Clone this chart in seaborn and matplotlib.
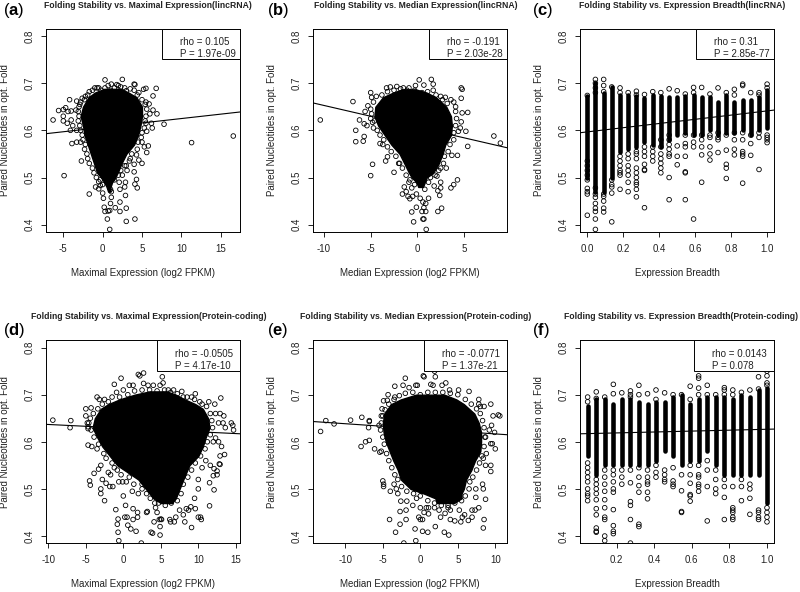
import matplotlib
matplotlib.use("Agg")
import matplotlib.pyplot as plt
from matplotlib.patches import Rectangle
import seaborn as sns

sns.set_theme(style="white")
plt.rcParams['font.family'] = ['Liberation Sans', 'DejaVu Sans']
plt.rcParams['mathtext.fontset'] = 'custom'
plt.rcParams['mathtext.bf'] = 'Liberation Sans:bold'
plt.rcParams['mathtext.rm'] = 'Liberation Sans'

W, H = 800, 592
TEXT = "#222222"

# ---------- panel (a) ----------
a_core_y =   [.47, .48, .49, .50, .51, .53, .55, .57, .59, .61, .63, .65, .67, .68, .688]
a_core_lo =  [.7, .5, .2, -.2, -.7, -1.1, -1.5, -1.9, -2.3, -2.5, -2.8, -2.5, -1.8, -1.0, .2]
a_core_hi =  [1.0, 1.0, 1.2, 1.6, 1.9, 2.4, 3.0, 4.0, 4.5, 4.8, 5.0, 5.0, 4.3, 3.3, 2.3]
a_points = [(-6.3,.622),(-5.6,.642),(-5,.644),(-4.7,.648),(-4.4,.64),(-4.2,.665),(-4,.641),(-5,.63),(-5,.62),(-4.5,.615),
 (-4,.622),(-3.8,.61),(-4.1,.6),(-3.9,.572),(-4.9,.504),(-3.3,.575),(-2.8,.575),(-2.7,.535),(-3.3,.6),(-3.4,.643),
 (-3.3,.662),(-2.9,.655),(-2.6,.668),(-2.2,.672),(-1.7,.682),(-1,.69),(-.7,.69),(.3,.707),(.3,.69),(1.1,.698),
 (1.8,.697),(2.5,.708),(2.3,.692),(3,.684),(4,.698),(4.1,.697),(4.4,.675),(5.2,.687),(5.5,.689),(6.8,.689),
 (6.4,.673),(5.5,.66),(5.9,.656),(6.4,.643),(6.9,.635),(6,.635),(6.2,.615),(6.3,.605),(7.8,.613),(5.5,.615),
 (5.6,.598),(5,.575),(5.3,.565),(5.8,.567),(5.6,.553),(5,.53),(4.6,.537),(4.3,.548),(4,.528),(4,.512),
 (3.5,.54),(3,.525),(3.1,.515),(11.3,.574),(16.6,.588),(-1.7,.465),(-.9,.48),(-.5,.476),(-.5,.491),(-.3,.483),
 (0,.467),(.1,.456),(.2,.437),(.3,.428),(.6,.412),(.7,.429),(.9,.43),(1,.445),(1.1,.458),(1.1,.47),
 (1,.475),(1.6,.436),(2.2,.428),(2.2,.448),(3,.407),(3,.435),(2.9,.462),(4.1,.412),(4.1,.486),(4.3,.496),
 (4.4,.478),(2.8,.48),(2.9,.49),(2.1,.49),(2.2,.475),(.9,.39),(1.3,.497),(.8,.487),(2.5,.505),
 (-3.1,.64),(-3,.63),(-3.1,.62),(-2.9,.61),(-2.8,.60),(-2.6,.59),(-2.5,.58),(-2.2,.57),(-2.3,.56),(-2,.55),
 (-1.9,.54),(-1.7,.53),(-1.3,.52),(-1.1,.51),(-.8,.50),(-3,.65),(-2.8,.66),(-2.3,.665),(-1.9,.675),(-1.3,.685),
 (4,.685),(4.6,.68),(5,.665),(5.4,.655),(5.6,.645),(5.5,.63),(5.4,.62),(5.3,.605),(5,.595),(4.9,.585),
 (4.5,.575),(4.4,.56),(3.7,.55),(3.4,.535),(2.8,.525),(2.3,.515),(2,.505),(1.5,.495),(0,.485),(-.3,.495),
 (-.5,.69),(.7,.695),(1.5,.69),(2,.695),(2.8,.69),(3.5,.688),(-.2,.685),(1,.685),(2.2,.683)]

# ---------- panel (b) ----------
b_core_y =  [.48, .49, .50, .51, .53, .55, .57, .59, .61, .63, .65, .67, .68, .687]
b_core_lo = [.1, -.1, -.6, -.9, -1.4, -1.9, -2.8, -3.5, -4.2, -4.6, -4.5, -3.7, -2.6, -1.6]
b_core_hi = [.6, .8, 1.0, 1.7, 2.3, 2.7, 3.0, 3.6, 3.7, 3.6, 3.1, 2.0, 1.0, -.2]
b_points = [(-10.4,.622),(-6.9,.661),(-6.6,.6),(-6.6,.576),(-6.2,.622),(-5.7,.614),(-5.7,.587),(-5.8,.577),(-5.4,.61),(-5.6,.64),
 (-5.3,.652),(-5,.68),(-4.9,.67),(-5,.625),(-4.8,.617),(-4.7,.605),(-4.8,.528),(-5,.504),(-4,.572),(-3.7,.57),
 (-3.4,.535),(-3.2,.544),(-2.5,.511),(-2,.53),(-3.3,.69),(-2.9,.692),(-2.2,.693),(-1.5,.69),(-.9,.69),(-.2,.695),
 (.2,.707),(.7,.696),(1.5,.708),(1.7,.698),(1.7,.685),(2.5,.672),(3,.67),(3.6,.665),(4.1,.65),(4.7,.69),
 (4.8,.687),(4.7,.668),(4.8,.637),(5.4,.638),(4.7,.618),(4.6,.605),(5.2,.598),(4.4,.598),(5.4,.566),(4.3,.547),
 (3.7,.547),(3.1,.52),(8.2,.588),(8.9,.573),(-1.6,.465),(-1.4,.48),(-1.2,.47),(-1,.46),(-.8,.455),(-.5,.46),
 (-.6,.478),(-.9,.49),(-.1,.465),(.3,.456),(.6,.448),(.9,.445),(1.2,.456),(.7,.436),(.9,.428),(.7,.412),
 (.6,.412),(-.1,.437),(-.6,.427),(-.4,.406),(.5,.428),(.95,.39),(2.2,.428),(2.6,.435),(2.4,.462),(2.5,.478),
 (2.5,.49),(1.8,.482),(2.2,.472),(3.6,.478),(3.9,.485),(4.3,.495),(2.1,.503),(2.3,.515),(.8,.475),(1.2,.49),
 (-4.7,.66),(-4.4,.672),(-3.8,.675),(-3.2,.682),(-2.5,.685),(-1.8,.688),(-1.1,.685),(-.3,.685),(.5,.68),(1.1,.682),
 (2,.675),(2.7,.665),(3.2,.657),(3.9,.66),(4.1,.64),(4.2,.625),(4.1,.61),(3.9,.595),(3.9,.58),(3.5,.57),
 (3.3,.555),(2.9,.545),(2.8,.53),(2.5,.52),(1.9,.505),(1.4,.50),(-5,.645),(-4.9,.635),(-4.6,.62),(-4.3,.6),
 (-4,.59),(-3.6,.58),(-3.2,.565),(-2.8,.555),(-2.3,.545),(-1.9,.53),(-1.6,.52),(-1.2,.505),(-.8,.495),(-.3,.485)]

# ---------- panel (c) ----------
c_breadth = [0, .045, .091, .136, .182, .227, .273, .318, .364, .409, .455, .5,
             .545, .591, .636, .682, .727, .773, .818, .864, .909, .955, 1.0]
c_dense_lo = [.50, .47, .47, .50, .555, .56, .565, .575, .57, .565, .58, .59,
              .595, .59, .59, .60, .59, .595, .595, .60, .59, .60, .605]
c_dense_hi = [.672, .70, .68, .692, .675, .675, .672, .668, .675, .672, .67, .67,
              .672, .675, .67, .67, .66, .675, .66, .665, .665, .67, .685]
c_extra = [[.42,.465,.47,.477,.495,.505,.515,.525,.535,.674],
 [.39,.412,.428,.435,.445,.458,.465,.478,.69,.70,.708,.68],
 [.427,.435,.45,.46,.465,.708,.695,.682],
 [.406,.467,.48,.485,.495,.692],
 [.475,.505,.51,.515,.525,.535,.545,.69,.68],
 [.47,.49,.505,.515,.525,.54,.55,.68],
 [.459,.475,.485,.49,.50,.51,.52,.54,.55,.555,.683,.675],
 [.436,.515,.517,.528,.545,.555,.565,.676],
 [.535,.545,.555,.565,.682],
 [.51,.52,.53,.54,.55,.565,.58,.68],
 [.453,.5,.545,.55,.56,.57,.58,.59,.688],
 [.527,.545,.567,.684],
 [.453,.51,.512,.545,.565,.572,.59,.677],
 [.412,.565,.575,.59,.691,.68],
 [.49,.548,.565,.58,.59,.691],
 [.537,.55,.565,.585,.59,.677],
 [.553,.58,.585,.595,.69],
 [.498,.52,.528,.558,.59,.68],
 [.548,.56,.58,.595,.687,.675],
 [.488,.545,.55,.555,.58,.595,.698,.695],
 [.547,.572,.59,.68],
 [.517,.585,.595,.68,.675],
 [.574,.58,.585,.59,.698,.69]]

# ---------- panel (d) ----------
d_core_y =  [.47, .48, .50, .52, .55, .57, .59, .61, .63, .65, .67, .68, .69, .70, .707]
d_core_lo = [5.0, 4.0, 3.0, 2.0, -.8, -1.8, -2.8, -3.5, -4.1, -3.8, -3.0, -2.0, -.5, 1.5, 3.5]
d_core_hi = [6.5, 7.0, 7.5, 8.0, 8.8, 10.0, 10.6, 11.0, 11.5, 11.3, 10.6, 9.6, 8.2, 7.0, 5.8]
d_points = [(-9.4,.646),(-7,.645),(-7.1,.63),(-5,.67),(-5,.655),(-4.8,.64),(-4.3,.672),(-4,.66),(-4.7,.628),(-4.7,.632),
 (-4.7,.593),(-4.2,.59),(-3.5,.695),(-3.2,.69),(-2.5,.69),(-1.2,.722),(-.9,.705),(-.3,.735),(0,.71),(.8,.72),
 (1.3,.72),(2,.743),(2.2,.74),(2.7,.746),(2.7,.724),(3.3,.72),(4,.72),(5.2,.738),(5.3,.725),(4.9,.72),
 (6,.71),(6.7,.71),(7.8,.707),(8.5,.695),(9.6,.702),(9.5,.69),(11.4,.685),(10.5,.68),(12.2,.68),(13,.693),
 (12.3,.66),(12.9,.66),(13.4,.655),(12.7,.64),(13.3,.64),(13.6,.63),(14.4,.64),(14.6,.635),(14.7,.625),(12.3,.608),
 (12.7,.6),(13.1,.59),(12,.6),(12.9,.57),(13.5,.573),(12.8,.553),(12.9,.552),(12.1,.543),(12.5,.538),(11.6,.55),
 (12,.528),(12.5,.53),(11,.56),(11.5,.513),(12.1,.498),(11.5,.464),(10.5,.545),(10,.52),(10,.5),(9.5,.48),
 (10,.44),(10.3,.44),(10.4,.435),(9.1,.418),(9.6,.458),(9,.462),(8.7,.455),(8.4,.458),(8,.445),(8.2,.43),
 (7.5,.455),(7,.44),(6.8,.43),(6.3,.43),(6.2,.435),(5,.436),(4.9,.42),(4.9,.402),(4.8,.435),(5.1,.435),
 (3.7,.408),(3.9,.406),(4.1,.43),(4.5,.45),(4.3,.46),(3.2,.452),(3.1,.45),(2.4,.385),(1.7,.41),(1,.415),
 (.6,.423),(1.3,.435),(.5,.44),(.2,.44),(-.6,.39),(-.7,.408),(-.8,.425),(-.7,.436),(-1,.456),(.3,.465),
 (0,.485),(1.3,.458),(1.9,.45),(1.9,.44),(-2.5,.475),(-3,.49),(-3,.5),(-4.5,.517),(-4.4,.508),(-2.8,.52),
 (-2.3,.512),(-1.8,.505),(-1.4,.505),(-3.9,.533),(-3.3,.542),(-3,.55),(-2,.535),(-1.7,.53),(-.8,.54),(-.6,.515),
 (-.1,.515),(.4,.515),(1.2,.495),(2,.49),(2.5,.5),
 (-4.4,.65),(-4.6,.64),(-4.3,.625),(-3.9,.61),(-3.3,.595),(-3.5,.585),(-2.6,.575),(-2.3,.565),(-1.5,.555),(-1.2,.545),
 (-.3,.53),(.8,.525),(1.4,.51),(2.5,.51),(3.1,.49),(3.6,.48),(4.2,.47),(4.7,.47),(5.6,.465),(6.4,.47),
 (7.2,.475),(7.7,.49),(8,.51),(8.6,.525),(9.1,.54),(9.6,.555),(10.3,.57),(10.9,.585),(11.2,.6),(11.6,.615),
 (11.9,.63),(11.8,.645),(11.6,.66),(11.1,.675),(10.2,.685),(9.1,.695),(8,.695),(7.2,.702),(6.3,.705),(5.5,.71),
 (4.5,.708),(3.5,.71),(2.5,.71),(1.5,.708),(.6,.7),(-.5,.695),(-1.5,.695),(-2,.685),(-2.8,.68),(-3.4,.67)]

# ---------- panel (e) ----------
e_core_y =  [.47, .48, .49, .50, .52, .54, .56, .58, .60, .62, .64, .66, .68, .69, .70]
e_core_lo = [2.2, 2.0, .5, -1.3, -2.6, -3.0, -3.6, -4.1, -4.6, -4.9, -5.0, -4.8, -3.9, -2.6, -.6]
e_core_hi = [4.5, 5.5, 5.5, 5.8, 6.1, 6.8, 7.3, 8.0, 8.1, 8.1, 7.8, 7.2, 5.8, 4.8, 3.2]
e_points = [(-13.3,.622),(-12.6,.645),(-11.5,.638),(-9.3,.646),(-7.8,.652),(-6.9,.63),(-6.8,.645),(-6.8,.643),(-7.9,.59),(-7.3,.6),
 (-6.8,.603),(-6.1,.585),(-5.5,.635),(-5.4,.578),(-5.2,.58),(-5.1,.67),(-5.2,.655),(-4.9,.687),(-4.3,.7),(-4.4,.688),
 (-3.4,.695),(-3.4,.718),(-2.3,.72),(-2,.735),(-1.5,.715),(-.6,.72),(-.4,.72),(.4,.74),(.5,.738),(1.4,.722),
 (1.7,.72),(2,.738),(1.9,.75),(2.9,.72),(3.4,.725),(3.9,.71),(5.1,.71),(6.5,.707),(7.8,.69),(7.8,.68),
 (8,.675),(8.5,.675),(9.4,.68),(9.7,.655),(10.4,.657),(10.6,.655),(9.5,.635),(9.2,.625),(9.9,.62),(8.7,.61),
 (9.4,.596),(9.6,.596),(10,.585),(8.8,.575),(8.4,.565),(8.7,.55),(9.4,.55),(9.4,.537),(8.3,.51),(8.4,.5),
 (7.4,.5),(8.7,.478),(7.4,.482),(7.8,.46),(7.3,.455),(6.9,.455),(6.9,.44),(8.5,.435),(8.4,.417),(6.4,.433),
 (5.9,.445),(5.6,.44),(5.4,.43),(5.2,.455),(4.6,.432),(4,.435),(4,.455),(3.7,.46),(3.3,.448),(2.7,.44),
 (2.5,.455),(1.9,.46),(1.1,.447),(1.1,.46),(.8,.46),(0,.46),(.5,.45),(-.2,.44),(0,.435),(.3,.435),
 (-.7,.415),(-.6,.39),(.3,.41),(-1.9,.435),(-2.7,.425),(-3.3,.408),(-4.1,.435),(-2.7,.452),(-1.9,.455),(-2.6,.474),
 (-1.8,.474),(-1,.465),(-.5,.48),(-4,.495),(-3,.49),(-3.2,.5),(-3.5,.51),(-5,.517),(-4.9,.51),(-4.9,.505),
 (-.7,.5),(.1,.495),(3.2,.408),(3.8,.402),(2,.42),(1,.408),(-2.2,.385),
 (-5.2,.64),(-5.3,.625),(-5,.61),(-4.8,.595),(-4.5,.575),(-4.2,.56),(-3.8,.545),(-3.4,.53),(-3,.52),(-2.5,.505),
 (-1.8,.495),(-.9,.49),(0,.485),(1,.475),(1.9,.47),(2.8,.465),(3.7,.465),(4.6,.47),(5.5,.475),(6,.485),
 (6.5,.50),(6.6,.515),(7,.525),(7.5,.54),(7.9,.555),(8.2,.57),(8.5,.59),(8.6,.61),(8.5,.63),(8.3,.645),
 (8,.66),(7.5,.67),(6.8,.68),(6,.69),(5,.70),(4,.703),(3,.705),(2,.705),(1,.705),(0,.70),
 (-1,.705),(-2,.703),(-2.8,.698),(-3.5,.69),(-4.2,.68),(-4.7,.668),(-5,.655)]

# ---------- panel (f) ----------
f_breadth = [.045, .091, .136, .182, .227, .273, .318, .364, .409, .455, .5,
             .545, .591, .636, .682, .727, .773, .818, .864, .909, .955, 1.0]
f_dense_lo = [.57, .53, .55, .55, .55, .55, .55, .55, .56, .58, .57,
              .55, .56, .56, .58, .55, .53, .53, .53, .53, .53, .47]
f_dense_hi = [.675, .69, .69, .68, .69, .69, .685, .68, .685, .685, .695,
              .70, .68, .69, .695, .695, .695, .69, .70, .695, .71, .715]
f_extra = [[.695,.685,.555,.545,.535,.525,.515,.50,.49,.485,.475],
 [.706,.692,.52,.51,.50,.49,.477,.458,.445,.417,.41,.408],
 [.695,.54,.525,.51,.495,.477,.46,.44,.435,.40,.39],
 [.722,.702,.54,.53,.515,.50,.493,.456,.422,.41,.405],
 [.704,.54,.525,.51],
 [.708,.70,.695,.54,.513,.473,.465,.435,.385],
 [.72,.70,.545,.525,.507,.493,.425,.42],
 [.702,.54,.525,.515,.51,.493,.479],
 [.71,.69,.55,.535,.525],
 [.704,.54,.53,.52,.515],
 [.70,.545,.517,.51,.505],
 [.70,.53,.496,.452,.45],
 [.718,.69,.55,.53,.512,.488,.485,.474],
 [.74,.735,.714,.70,.55,.53,.525,.51,.505,.495],
 [.72,.70,.56,.54,.505,.432],
 [.70,.54,.52,.50,.49],
 [.715,.71,.70,.52,.505,.482,.435],
 [.71,.70,.505,.46,.455,.45,.44,.435],
 [.705,.52,.505,.475],
 [.71,.51,.5,.48,.446],
 [.738,.712,.455,.45,.44,.435],
 [.75,.74,.725,.72,.46,.45,.44,.43]]

# ---------- text, trend lines, ticks ----------
titles = ["Folding Stability vs. Maximal Expression(lincRNA)",
          "Folding Stability vs. Median Expression(lincRNA)",
          "Folding Stability vs. Expression Breadth(lincRNA)",
          "Folding Stability vs. Maximal Expression(Protein-coding)",
          "Folding Stability vs. Median Expression(Protein-coding)",
          "Folding Stability vs. Expression Breadth(Protein-coding)"]
xlabels = ["Maximal Expression (log2 FPKM)", "Median Expression (log2 FPKM)", "Expression Breadth"] * 2
ylabel = "Paired Nucleotides in opt. Fold"
letters = list("abcdef")
rhos = ["rho = 0.105", "rho = -0.191", "rho = 0.31", "rho = -0.0505", "rho = -0.0771", "rho = 0.0143"]
pvals = ["P = 1.97e-09", "P = 2.03e-28", "P = 2.85e-77", "P = 4.17e-10", "P = 1.37e-21", "P = 0.078"]
trend_x = [(-7.16, 17.49), (-11.15, 9.64), (-.039, 1.04), (-10.27, 15.6), (-14.27, 11.6), (.006, 1.039)]
trend_y = [(.593, .639), (.658, .563), (.595, .643), (.637, .617), (.643, .615), (.617, .627)]
xticks = [[-5, 0, 5, 10, 15], [-10, -5, 0, 5], [0, .2, .4, .6, .8, 1.0],
          [-10, -5, 0, 5, 10, 15], [-10, -5, 0, 5, 10], [.2, .4, .6, .8, 1.0]]
xticklabels = [["-5", "0", "5", "10", "15"], ["-10", "-5", "0", "5"],
               ["0.0", "0.2", "0.4", "0.6", "0.8", "1.0"],
               ["-10", "-5", "0", "5", "10", "15"], ["-10", "-5", "0", "5", "10"],
               ["0.2", "0.4", "0.6", "0.8", "1.0"]]
yticks = [.4, .5, .6, .7, .8]
yticklabels = ["0.4", "0.5", "0.6", "0.7", "0.8"]

left = [46.3, 313.3, 580.3] * 2
right = [240.3, 507.3, 774.3] * 2
top = [28.7] * 3 + [340.3] * 3
bottom = [232.0] * 3 + [543.3] * 3
xlims = [(-7.16, 17.49), (-11.15, 9.64), (-.039, 1.04), (-10.27, 15.6), (-14.27, 11.6), (.006, 1.039)]
ylims = [(.3845, .8155)] * 6
box_left = [161.7, 428.7, 695.7, 156.7, 423.7, 694.0]
title_cx = [148, 415.3, 682.3, 148.5, 415.5, 681.3]
title_cy = [5] * 3 + [316.7] * 3
letter_x = [3.3, 267.3, 532, 3.3, 267, 532]
letter_cy = [10] * 3 + [330.7] * 3

fig = plt.figure(figsize=(W / 100, H / 100), dpi=100, facecolor="white")

def fx(px): return px / W
def fy(py): return 1 - py / H

FS = 7.05
PT = dict(s=11, facecolors="none", edgecolor="black", linewidth=0.6, marker="o", legend=False, clip_on=True, zorder=3)
panels = [(a_points, a_core_y, a_core_lo, a_core_hi), (b_points, b_core_y, b_core_lo, b_core_hi), None,
          (d_points, d_core_y, d_core_lo, d_core_hi), (e_points, e_core_y, e_core_lo, e_core_hi), None]
columns = [None, None, (c_breadth, c_dense_lo, c_dense_hi, c_extra), None, None,
           (f_breadth, f_dense_lo, f_dense_hi, f_extra)]

for i in range(6):
    ax = fig.add_axes([fx(left[i]), fy(bottom[i]), (right[i] - left[i]) / W, (bottom[i] - top[i]) / H])
    if panels[i] is not None:
        pts, cy, clo, chi = panels[i]
        ax.fill_betweenx(cy, clo, chi, color="black", lw=1.0, zorder=2)
        sns.scatterplot(x=[p[0] for p in pts], y=[p[1] for p in pts], ax=ax, **PT)
    else:
        bx, lo, hi, extra = columns[i]
        ax.vlines(bx, lo, hi, color="black", lw=3.3, capstyle="round", zorder=2)
        xs = [b for b, e in zip(bx, extra) for _ in e]
        ys = [v for e in extra for v in e]
        sns.scatterplot(x=xs, y=ys, ax=ax, **PT)
    sns.lineplot(x=list(trend_x[i]), y=list(trend_y[i]), ax=ax, color="black", lw=0.8, zorder=4,
                 errorbar=None, legend=False)
    ax.set_xlim(*xlims[i])
    ax.set_ylim(*ylims[i])
    ax.set_xticks(xticks[i])
    ax.set_xticklabels(xticklabels[i], fontsize=FS, color=TEXT)
    ax.set_yticks(yticks)
    ax.set_yticklabels(yticklabels, fontsize=FS, color=TEXT, rotation=90, va="center")
    ax.tick_params(axis="both", length=3.6, width=0.6, color="black", left=True, bottom=True, pad=5)
    ax.set_xlabel("")
    ax.set_ylabel("")
    for s in ax.spines.values():
        s.set_linewidth(0.7)
        s.set_color("black")
    bw = right[i] - box_left[i]
    ax_w, ax_h = right[i] - left[i], bottom[i] - top[i]
    ax.add_patch(Rectangle(((box_left[i] - left[i]) / ax_w, 1 - 30.6 / ax_h), bw / ax_w, 30.6 / ax_h,
                           transform=ax.transAxes, facecolor="white", edgecolor="black", lw=0.7, zorder=5))
    fig.text(fx(box_left[i] + 18), fy(top[i] + 13.6), rhos[i], fontsize=FS, color=TEXT, va="center", ha="left", zorder=6)
    fig.text(fx(box_left[i] + 18), fy(top[i] + 25.3), pvals[i], fontsize=FS, color=TEXT, va="center", ha="left", zorder=6)
    fig.text(fx((left[i] + right[i]) / 2), fy(bottom[i] + 41), xlabels[i], fontsize=FS, color=TEXT, ha="center", va="center")
    fig.text(fx(left[i] - 41), fy((top[i] + bottom[i]) / 2), ylabel, fontsize=FS, color=TEXT, rotation=90, ha="center", va="center")
    fig.text(fx(title_cx[i]), fy(title_cy[i]), titles[i], fontsize=6.25, fontweight="bold", color=TEXT, ha="center", va="center")
    fig.text(fx(letter_x[i]), fy(letter_cy[i]), r"($\mathbf{%s}$)" % letters[i], fontsize=12, color="black", ha="left", va="center")

fig.savefig("out.png", dpi=100)
